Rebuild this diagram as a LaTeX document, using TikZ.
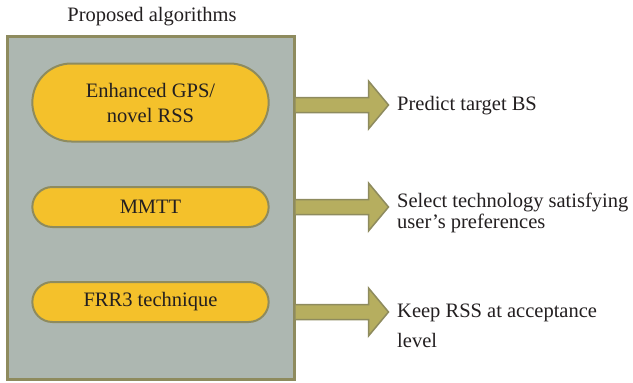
\documentclass[tikz,border=0pt]{standalone}
\usepackage{fontspec}
\setmainfont{Liberation Serif}
\usetikzlibrary{shapes.misc}
\definecolor{boxgray}{HTML}{ADB7B1}
\definecolor{olive}{HTML}{8E8B5E}
\definecolor{pillyellow}{HTML}{F4C12B}
\definecolor{arrowolive}{HTML}{B6AE5F}
\definecolor{ink}{HTML}{231F20}

\begin{document}
\begin{tikzpicture}[x=1pt,y=-1pt,
  every node/.style={font=\fontsize{20.5}{25}\selectfont, text=ink},
  panel/.style={draw=olive, line width=3pt, fill=boxgray, rectangle},
  pill/.style={draw=olive, line width=2pt, fill=pillyellow, rounded rectangle, minimum width=243pt, align=center},
  blockarrow/.style={draw=olive, line width=1.5pt, fill=arrowolive, line join=miter}]
\useasboundingbox (0,0) rectangle (633,383);
\node(Box)[panel, minimum width=287pt, minimum height=343pt] at (150.5,207.5) {};
\node(Title) at (152,17) {Proposed algorithms};

\node(Gps)[pill, minimum height=78pt] at (150.5,102.5) {Enhanced GPS/\\novel RSS};
\node(Mmtt)[pill, minimum height=40pt] at (150.5,207) {MMTT};
\node(Frr)[pill, minimum height=40pt] at (150.5,302) {FRR3 technique};

\node(Pred)[anchor=west, inner sep=0] at (397,106) {Predict target BS};
\node(Sel)[anchor=west, inner sep=0, align=left, font=\fontsize{20.5}{21}\selectfont] at (397,212.5) {Select technology satisfying\\user's preferences};
\node(Keep)[anchor=west, inner sep=0, align=left] at (397,326) {Keep RSS at acceptance\\[5pt]level};

% block arrows from the panel towards the outcomes
\foreach \y in {105,207,312}
  \draw[blockarrow] (Box.east |- 0,\y) ++(0,-7.5) -- ++(73,0) -- ++(0,-16.5) -- ++(20,24) -- ++(-20,24) -- ++(0,-16.5) -- ++(-73,0);
\end{tikzpicture}
\end{document}
